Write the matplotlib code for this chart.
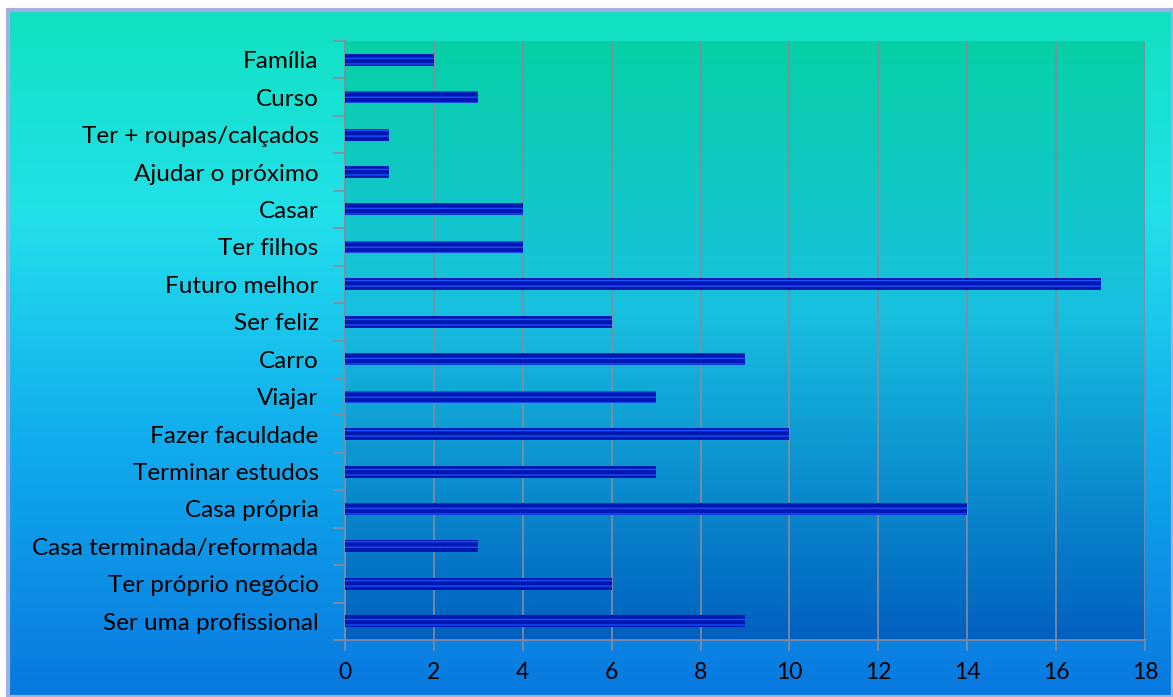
import numpy as np
import matplotlib.pyplot as plt
from matplotlib.colors import LinearSegmentedColormap
from matplotlib.patches import Rectangle

categories = [
    "Família", "Curso", "Ter + roupas/calçados", "Ajudar o próximo",
    "Casar", "Ter filhos", "Futuro melhor", "Ser feliz", "Carro", "Viajar",
    "Fazer faculdade", "Terminar estudos", "Casa própria",
    "Casa terminada/reformada", "Ter próprio negócio", "Ser uma profissional",
]
values = [2, 3, 1, 1, 4, 4, 17, 6, 9, 7, 10, 7, 14, 3, 6, 9]
x_ticks = list(range(0, 19, 2))

plt.rcParams['font.family'] = ['Lato', 'DejaVu Sans']
plt.rcParams['hatch.color'] = "#1850ff"

W, H = 1173, 697
fig = plt.figure(figsize=(W / 100, H / 100), dpi=100)
fig.patch.set_facecolor("white")

# fundo com gradiente (figura toda)
bg = fig.add_axes([8 / W, 0, 1 - 8 / W, 1 - 10 / H], zorder=-10)
bg_cmap = LinearSegmentedColormap.from_list(
    "bg", [(0.0, "#10e2c0"), (0.3, "#22e0ea"), (0.6, "#12b0ee"), (1.0, "#0878e0")])
grad = np.linspace(0, 1, 256).reshape(-1, 1)
bg.imshow(grad, cmap=bg_cmap, aspect="auto", extent=[0, 1, 1, 0])
bg.set_xlim(0, 1)
bg.set_ylim(1, 0)
bg.axis("off")
bg.add_patch(Rectangle((0, 0), 1, 1, fill=False, edgecolor="#a0b0e0",
                       linewidth=3, transform=bg.transAxes, clip_on=False))

# area do grafico
left, right, top, bottom = 345, 1145, 41, 640
ax = fig.add_axes([left / W, 1 - bottom / H, (right - left) / W, (bottom - top) / H])
ax.patch.set_alpha(0)
pa_cmap = LinearSegmentedColormap.from_list(
    "pa", [(0.0, "#06d0a6"), (0.45, "#18c0e0"), (1.0, "#0060c0")])
n = len(categories)
ax.imshow(grad, cmap=pa_cmap, aspect="auto", extent=[0, 18, n - 0.5, -0.5], zorder=0)

y = np.arange(n)
ax.barh(y, values, height=0.32, color="#0018b0", edgecolor="none", zorder=3)
ax.barh(y, values, height=0.32, color="none", edgecolor="#1850ff",
        hatch="---", linewidth=0, zorder=4)

ax.set_xlim(0, 18)
ax.set_ylim(n - 0.5, -0.5)
ax.set_xticks(x_ticks)
ax.set_xticklabels([str(t) for t in x_ticks], fontsize=16.5)
ax.set_yticks(y)
ax.set_yticklabels(categories, fontsize=17.5)
ax.tick_params(axis="y", length=0, pad=19)
ax.tick_params(axis="x", length=0, pad=16)

# marcas nas divisões das categorias
for b in np.arange(-0.5, n, 1):
    ax.plot([-0.25, 0], [b, b], color="#8a8a9a", lw=1.2, clip_on=False, zorder=5)
for t in x_ticks:
    ax.plot([t, t], [n - 0.5, n - 0.5 + 0.28], color="#8a8a9a", lw=1.2,
            clip_on=False, zorder=5)

ax.grid(axis="x", color="#8a8a9a", linewidth=1.2, zorder=1)
ax.set_axisbelow(False)
for s in ["top", "right"]:
    ax.spines[s].set_visible(False)
ax.spines["left"].set_color("#8a8a9a")
ax.spines["bottom"].set_color("#8a8a9a")
ax.spines["left"].set_linewidth(1.2)
ax.spines["bottom"].set_linewidth(1.2)

fig.savefig("out.png", dpi=100)
